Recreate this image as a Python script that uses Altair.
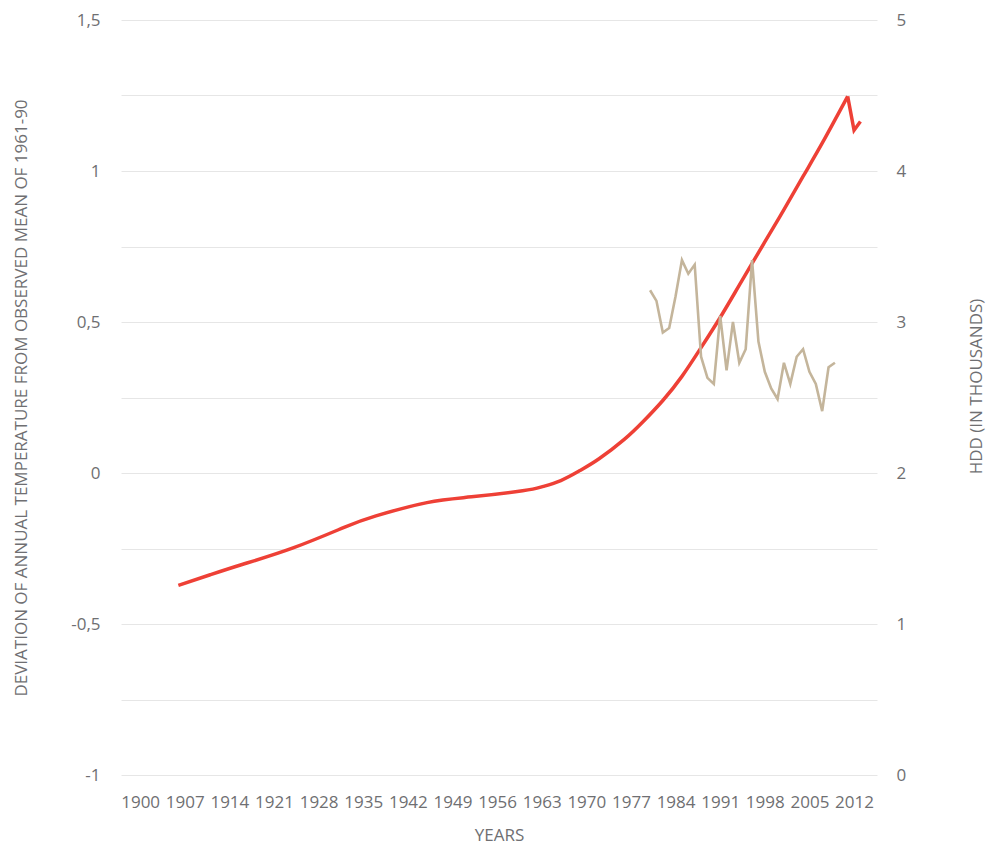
import altair as alt
import pandas as pd

# Temperature deviation: smoothed trend, then the last observed years
trend_years = [1906, 1911, 1916, 1924, 1932, 1937, 1945, 1952, 1960, 1963, 1966, 1969,
               1972, 1976, 1979, 1982, 1985, 1988, 1991, 1994, 1998, 2001, 2004, 2007,
               2011]
trend_values = [-0.372, -0.337, -0.303, -0.248, -0.180, -0.142, -0.098, -0.079, -0.059,
                -0.046, -0.025, 0.008, 0.047, 0.112, 0.172, 0.240, 0.320, 0.415, 0.515,
                0.622, 0.765, 0.872, 0.982, 1.092, 1.247]
tail_years = [2011, 2012, 2013]
tail_values = [1.247, 1.135, 1.164]

# Heating degree days (thousands)
hdd_years = list(range(1980, 2010))
hdd_values = [3.21, 3.14, 2.93, 2.96, 3.17, 3.41, 3.32, 3.38, 2.77, 2.63,
              2.59, 3.04, 2.68, 3.00, 2.73, 2.82, 3.41, 2.87, 2.67, 2.56,
              2.49, 2.73, 2.59, 2.77, 2.82, 2.67, 2.59, 2.41, 2.70, 2.73]

x_ticks = list(range(1900, 2013, 7))
left_ticks = [-1, -0.75, -0.5, -0.25, 0, 0.25, 0.5, 0.75, 1, 1.25, 1.5]
right_ticks = [0, 1, 2, 3, 4, 5]

trend_df = pd.DataFrame({"year": trend_years, "value": trend_values})
tail_df = pd.DataFrame({"year": tail_years, "value": tail_values})
hdd_df = pd.DataFrame({"year": hdd_years, "hdd": hdd_values})

FONT = "Open Sans"
LABEL_COLOR = "#6f6f72"
RED = "#ee4036"
W, H = 756, 755

x_enc = alt.X(
    "year:Q",
    scale=alt.Scale(domain=[1897, 2015.6], nice=False, zero=False),
    axis=alt.Axis(
        values=x_ticks, format="d", grid=False, ticks=False, tickSize=0, domain=False,
        labelOverlap=False, labelFlush=False, labelPadding=19,
        title="YEARS", titleX=W / 2, titleY=60, titleBaseline="middle", titleAlign="center",
    ),
)

y_left = alt.Y(
    "value:Q",
    scale=alt.Scale(domain=[-1, 1.5], nice=False, zero=False),
    axis=alt.Axis(
        values=left_ticks, orient="left", grid=True, gridColor="#e6e6e6", gridWidth=1,
        ticks=False, tickSize=0, domain=False, labelPadding=21,
        labelExpr="abs(datum.value*2 - round(datum.value*2)) < 0.001 ? replace(toString(datum.value), '.', ',') : ''",
        title="DEVIATION OF ANNUAL TEMPERATURE FROM OBSERVED MEAN OF 1961-90",
        titleX=-100, titleY=H / 2, titleAngle=-90, titleBaseline="middle", titleAlign="center",
    ),
)

trend_line = alt.Chart(trend_df).mark_line(
    color=RED, strokeWidth=3.5, interpolate="natural"
).encode(x=x_enc, y=y_left)

tail_line = alt.Chart(tail_df).mark_line(
    color=RED, strokeWidth=3.5, strokeJoin="miter"
).encode(x=x_enc, y=alt.Y("value:Q"))

temp_layer = alt.layer(trend_line, tail_line)

hdd_line = alt.Chart(hdd_df).mark_line(
    color="#c4b59b", strokeWidth=2.6
).encode(
    x=x_enc,
    y=alt.Y(
        "hdd:Q",
        scale=alt.Scale(domain=[0, 5], nice=False, zero=False),
        axis=alt.Axis(
            values=right_ticks, orient="right", grid=False, ticks=False, tickSize=0,
            domain=False, labelPadding=19,
            title="HDD (IN THOUSANDS)",
            titleX=99, titleY=366, titleAngle=-90, titleBaseline="middle", titleAlign="center",
        ),
    ),
)

chart = alt.layer(temp_layer, hdd_line).resolve_scale(y="independent").properties(
    width=W,
    height=H,
    padding={"left": 113, "top": 12, "right": 110, "bottom": 69},
    autosize=alt.AutoSizeParams(type="none"),
).configure_view(stroke=None).configure_axis(
    labelFont=FONT, labelFontSize=17, labelColor=LABEL_COLOR,
    titleFont=FONT, titleFontSize=17, titleColor=LABEL_COLOR, titleFontWeight="normal",
)

chart.save("out.html", embed_options={"renderer": "svg", "actions": False})
